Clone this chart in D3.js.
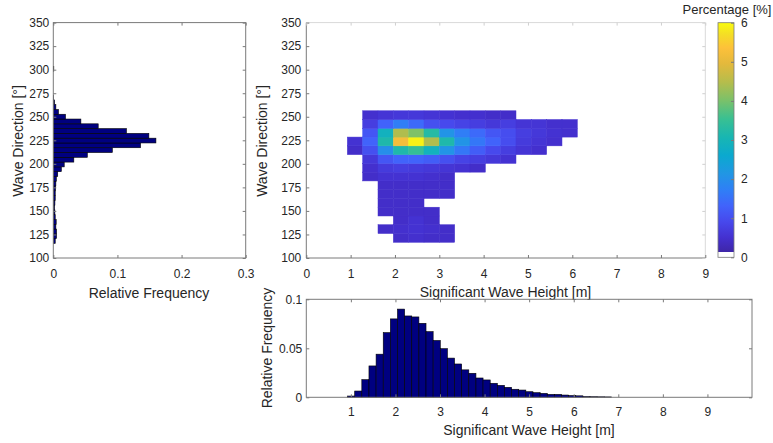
<!DOCTYPE html>
<html>
<head>
<meta charset="utf-8">
<script src="https://cdn.jsdelivr.net/npm/d3@7"></script>
<style>
  body { margin: 0; background: #fff; }
  text { font-family: "Liberation Sans", Arial, sans-serif; fill: #262626; }
</style>
</head>
<body>
<div id="container"></div>
<script>
// direction histogram: bins start at dirStart, each dirWidth degrees wide
const dirStart = 115.5;
const dirWidth = 5.08;
const dirFreq = [0.003, 0.005, 0.005, 0.004, 0.0045, 0.003, 0.0025, 0.002, 0.0025, 0.003,
  0.003, 0.0035, 0.004, 0.0047, 0.0069, 0.0125, 0.017, 0.032, 0.053, 0.092,
  0.136, 0.160, 0.149, 0.114, 0.070, 0.043, 0.019, 0.008, 0.004, 0.002,
  0.0006, 0, 0, 0, 0, 0, 0.0008];

// wave height histogram
const hsStart = 0.926;
const hsWidth = 0.16;
const hsFreq = [0.0013, 0.0064, 0.018, 0.032, 0.044, 0.066, 0.080, 0.090, 0.083, 0.082,
  0.0755, 0.067, 0.058, 0.0496, 0.040, 0.034, 0.028, 0.0245, 0.0197, 0.0177,
  0.0143, 0.0122, 0.0102, 0.0082, 0.0074, 0.0057, 0.0047, 0.004, 0.003, 0.003,
  0.0023, 0.0018, 0.0015, 0.0008, 0.0006, 0.0005, 0.0004];

// joint distribution [%], rows from lowest direction bin up, 15 height bins each
const cellX0 = 0.926;
const cellDX = 0.3458;
const cellY0 = 116.7;
const cellDY = 9.31;
const pctRows = [
  [0, 0, 0, 0.3, 0.35, 0.3, 0.3, 0, 0, 0, 0, 0, 0, 0, 0],
  [0, 0, 0.3, 0.35, 0.4, 0.35, 0.3, 0, 0, 0, 0, 0, 0, 0, 0],
  [0, 0, 0, 0.3, 0.4, 0.3, 0, 0, 0, 0, 0, 0, 0, 0, 0],
  [0, 0, 0.3, 0.3, 0.3, 0.3, 0, 0, 0, 0, 0, 0, 0, 0, 0],
  [0, 0, 0.3, 0.3, 0.3, 0, 0, 0, 0, 0, 0, 0, 0, 0, 0],
  [0, 0, 0.3, 0.3, 0.3, 0.3, 0.3, 0, 0, 0, 0, 0, 0, 0, 0],
  [0, 0, 0.3, 0.3, 0.3, 0.3, 0.3, 0, 0, 0, 0, 0, 0, 0, 0],
  [0, 0.3, 0.4, 0.4, 0.4, 0.35, 0.3, 0, 0, 0, 0, 0, 0, 0, 0],
  [0, 0.35, 0.55, 0.6, 0.55, 0.5, 0.45, 0.4, 0.3, 0, 0, 0, 0, 0, 0],
  [0, 0.5, 1.0, 1.2, 1.2, 1.1, 0.9, 0.7, 0.6, 0.5, 0.4, 0, 0, 0, 0],
  [0.3, 0.9, 1.9, 3.1, 3.4, 2.8, 2.0, 1.5, 1.1, 0.8, 0.6, 0.45, 0.35, 0, 0],
  [0.4, 1.2, 3.1, 5.2, 5.9, 4.4, 3.1, 2.0, 1.5, 1.2, 0.85, 0.55, 0.45, 0.35, 0],
  [0, 1.0, 2.8, 4.4, 4.0, 3.2, 2.0, 1.6, 1.3, 1.0, 0.85, 0.6, 0.5, 0.4, 0.35],
  [0, 0.6, 1.2, 1.6, 1.3, 0.9, 0.8, 0.7, 0.6, 0.5, 0.6, 0.45, 0.45, 0.35, 0.35],
  [0, 0.35, 0.45, 0.5, 0.5, 0.45, 0.4, 0.35, 0.35, 0.3, 0.3, 0, 0, 0, 0]
];

const dirTicks = [100, 125, 150, 175, 200, 225, 250, 275, 300, 325, 350];
const freqTicks = [0, 0.1, 0.2, 0.3];
const hsTicksTop = [0, 1, 2, 3, 4, 5, 6, 7, 8, 9];
const hsTicksBottom = [1, 2, 3, 4, 5, 6, 7, 8, 9];
const hsFreqTicks = [0, 0.05, 0.1];
const pctTicks = [0, 1, 2, 3, 4, 5, 6];

const parula = [
  [0.00, "#3e26a8"], [0.06, "#4430cf"], [0.13, "#4748ec"], [0.20, "#4163fb"],
  [0.27, "#2f7ff6"], [0.34, "#2196e4"], [0.42, "#0ba9cf"], [0.50, "#18b6b2"],
  [0.58, "#39c092"], [0.66, "#7ac16a"], [0.74, "#b5bd4c"], [0.82, "#e3b93c"],
  [0.89, "#fdc13a"], [0.95, "#f4de25"], [1.00, "#f9fb0e"]
];

const W = 773, H = 443;
const tickFont = 12, labelFont = 14;
const barFill = "#000080";
const boxColor = "#7a7a7a";

const svg = d3.select("#container").append("svg")
  .attr("width", W).attr("height", H);

const topY = 22.6, botY = 258;
const yDir = d3.scaleLinear().domain([100, 350]).range([botY, topY]);

function styleAxis(g, color) {
  g.select(".domain").remove();
  g.selectAll("line").attr("stroke", color || boxColor);
  g.selectAll("text").style("font-size", tickFont + "px").attr("fill", "#262626");
}

function box(x0, x1, y0, y1, color) {
  svg.append("rect")
    .attr("x", x0).attr("y", y0)
    .attr("width", x1 - x0).attr("height", y1 - y0)
    .attr("fill", "none").attr("stroke", color || boxColor).attr("stroke-width", 1);
}

// ---------- left: direction histogram ----------
const lx0 = 53.3, lx1 = 245.7;
const xFreq = d3.scaleLinear().domain([0, 0.3]).range([lx0, lx1]);

svg.append("g").selectAll("rect")
  .data(dirFreq.map((v, i) => ({ v, lo: dirStart + i * dirWidth })))
  .enter().filter(d => d.v > 0)
  .append("rect")
  .attr("x", xFreq(0))
  .attr("y", d => yDir(d.lo + dirWidth))
  .attr("width", d => xFreq(d.v) - xFreq(0))
  .attr("height", d => yDir(d.lo) - yDir(d.lo + dirWidth))
  .attr("fill", barFill).attr("stroke", "#000").attr("stroke-width", 0.6);

box(lx0, lx1, topY, botY);
svg.append("g").attr("transform", `translate(${lx0},0)`)
  .call(d3.axisLeft(yDir).tickValues(dirTicks).tickSizeInner(-3).tickSizeOuter(0).tickPadding(4))
  .call(styleAxis);
svg.append("g").attr("transform", `translate(${lx1},0)`)
  .call(d3.axisRight(yDir).tickValues(dirTicks).tickSizeInner(-3).tickSizeOuter(0).tickFormat(""))
  .call(styleAxis);
svg.append("g").attr("transform", `translate(0,${botY})`)
  .call(d3.axisBottom(xFreq).tickValues(freqTicks).tickSizeInner(-3).tickSizeOuter(0).tickPadding(11)
    .tickFormat(d => d === 0 ? "0" : d3.format(".1f")(d)))
  .call(styleAxis);
svg.append("g").attr("transform", `translate(0,${topY})`)
  .call(d3.axisTop(xFreq).tickValues(freqTicks).tickSizeInner(-3).tickSizeOuter(0).tickFormat(""))
  .call(styleAxis);

svg.append("text").attr("x", 149).attr("y", 297.7).attr("text-anchor", "middle")
  .style("font-size", labelFont + "px").text("Relative Frequency");
svg.append("text").attr("transform", `translate(23.3,141)rotate(-90)`).attr("text-anchor", "middle")
  .style("font-size", labelFont + "px").text("Wave Direction [°]");

// ---------- heatmap ----------
const hx0 = 306.3, hx1 = 705.3;
const xHs = d3.scaleLinear().domain([0, 9]).range([hx0, hx1]);
const color = d3.scaleLinear()
  .domain(parula.map(s => s[0] * 6))
  .range(parula.map(s => s[1]));

const cells = [];
pctRows.forEach((row, r) => row.forEach((v, c) => {
  if (v > 0) cells.push({ v, x: cellX0 + c * cellDX, y: cellY0 + r * cellDY });
}));

svg.append("g").selectAll("rect")
  .data(cells).enter().append("rect")
  .attr("x", d => xHs(d.x))
  .attr("y", d => yDir(d.y + cellDY))
  .attr("width", d => xHs(d.x + cellDX) - xHs(d.x))
  .attr("height", d => yDir(d.y) - yDir(d.y + cellDY))
  .attr("fill", d => color(d.v))
  .attr("stroke", d => color(d.v)).attr("stroke-width", 0.5);

// light top/right frame, darker left/bottom axes
svg.append("path")
  .attr("d", `M${hx0},${topY}H${hx1}V${botY}`)
  .attr("fill", "none").attr("stroke", "#d9d9d9");
svg.append("path")
  .attr("d", `M${hx0},${topY}V${botY}H${hx1}`)
  .attr("fill", "none").attr("stroke", boxColor);
svg.append("g").attr("transform", `translate(${hx0},0)`)
  .call(d3.axisLeft(yDir).tickValues(dirTicks).tickSizeInner(-3).tickSizeOuter(0).tickPadding(5))
  .call(styleAxis);
svg.append("g").attr("transform", `translate(${hx1},0)`)
  .call(d3.axisRight(yDir).tickValues(dirTicks).tickSizeInner(-3).tickSizeOuter(0).tickFormat(""))
  .call(g => styleAxis(g, "#cfcfcf"));
svg.append("g").attr("transform", `translate(0,${botY})`)
  .call(d3.axisBottom(xHs).tickValues(hsTicksTop).tickSizeInner(-3).tickSizeOuter(0).tickPadding(11))
  .call(styleAxis);
svg.append("g").attr("transform", `translate(0,${topY})`)
  .call(d3.axisTop(xHs).tickValues(hsTicksTop).tickSizeInner(-3).tickSizeOuter(0).tickFormat(""))
  .call(g => styleAxis(g, "#cfcfcf"));

svg.append("text").attr("x", 505.5).attr("y", 296.7).attr("text-anchor", "middle")
  .style("font-size", labelFont + "px").text("Significant Wave Height [m]");
svg.append("text").attr("transform", `translate(267,141)rotate(-90)`).attr("text-anchor", "middle")
  .style("font-size", labelFont + "px").text("Wave Direction [°]");

// ---------- colorbar ----------
const cbX0 = 718, cbX1 = 734, cbTop = 22.7, cbBot = 257.3;
const yPct = d3.scaleLinear().domain([0, 6]).range([cbBot, cbTop]);
const whiteFrac = 0.024;
const grad = svg.append("defs").append("linearGradient")
  .attr("id", "parula").attr("x1", 0).attr("y1", 1).attr("x2", 0).attr("y2", 0);
grad.append("stop").attr("offset", 0).attr("stop-color", "#fff");
grad.append("stop").attr("offset", whiteFrac).attr("stop-color", "#fff");
parula.forEach(s => grad.append("stop")
  .attr("offset", whiteFrac + s[0] * (1 - whiteFrac))
  .attr("stop-color", s[1]));

svg.append("rect")
  .attr("x", cbX0).attr("y", cbTop)
  .attr("width", cbX1 - cbX0).attr("height", cbBot - cbTop)
  .attr("fill", "url(#parula)").attr("stroke", boxColor).attr("stroke-width", 0.8);
svg.append("g").attr("transform", `translate(${cbX1},0)`)
  .call(d3.axisRight(yPct).tickValues(pctTicks).tickSizeInner(-3).tickSizeOuter(0).tickPadding(7)
    .tickFormat(d3.format("d")))
  .call(styleAxis);
svg.append("text").attr("x", 727).attr("y", 14).attr("text-anchor", "middle")
  .style("font-size", "13px").text("Percentage [%]");

// ---------- bottom: wave height histogram ----------
const bx0 = 306.3, bx1 = 752, bTop = 299.3, bBot = 397.3;
const xHsB = d3.scaleLinear().domain([0, 10]).range([bx0, bx1]);
const yHsF = d3.scaleLinear().domain([0, 0.1]).range([bBot, bTop]);

svg.append("g").selectAll("rect")
  .data(hsFreq.map((v, i) => ({ v, lo: hsStart + i * hsWidth })))
  .enter().append("rect")
  .attr("x", d => xHsB(d.lo))
  .attr("y", d => yHsF(d.v))
  .attr("width", d => xHsB(d.lo + hsWidth) - xHsB(d.lo))
  .attr("height", d => yHsF(0) - yHsF(d.v))
  .attr("fill", barFill).attr("stroke", "#000").attr("stroke-width", 0.6);

box(bx0, bx1, bTop, bBot);
svg.append("g").attr("transform", `translate(${bx0},0)`)
  .call(d3.axisLeft(yHsF).tickValues(hsFreqTicks).tickSizeInner(-3).tickSizeOuter(0).tickPadding(4)
    .tickFormat(d => d === 0 ? "0" : String(+d.toFixed(2))))
  .call(styleAxis);
svg.append("g").attr("transform", `translate(${bx1},0)`)
  .call(d3.axisRight(yHsF).tickValues(hsFreqTicks).tickSizeInner(-3).tickSizeOuter(0).tickFormat(""))
  .call(styleAxis);
svg.append("g").attr("transform", `translate(0,${bBot})`)
  .call(d3.axisBottom(xHsB).tickValues(hsTicksBottom).tickSizeInner(-3).tickSizeOuter(0).tickPadding(10))
  .call(styleAxis);
svg.append("g").attr("transform", `translate(0,${bTop})`)
  .call(d3.axisTop(xHsB).tickValues(hsTicksBottom).tickSizeInner(-3).tickSizeOuter(0).tickFormat(""))
  .call(styleAxis);

svg.append("text").attr("x", 529).attr("y", 435).attr("text-anchor", "middle")
  .style("font-size", labelFont + "px").text("Significant Wave Height [m]");
svg.append("text").attr("transform", `translate(272,348)rotate(-90)`).attr("text-anchor", "middle")
  .style("font-size", labelFont + "px").text("Relative Frequency");
</script>
</body>
</html>
